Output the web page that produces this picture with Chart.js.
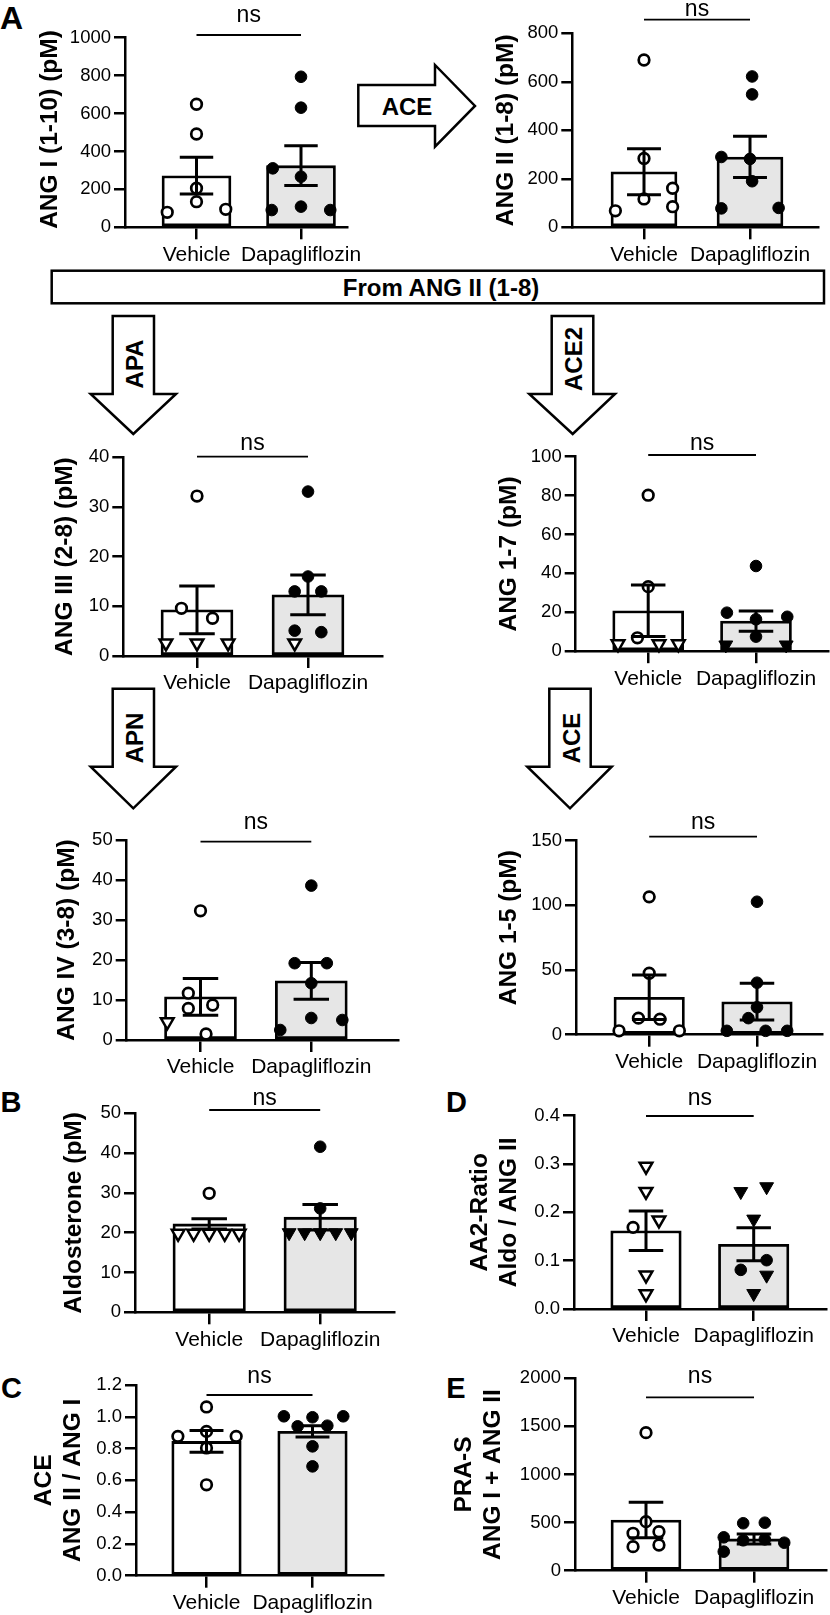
<!DOCTYPE html>
<html>
<head>
<meta charset="utf-8">
<script src="https://cdn.jsdelivr.net/npm/chart.js@4.4.1/dist/chart.umd.min.js"></script>
<style>
  html, body { margin: 0; padding: 0; background: #fff; width: 830px; height: 1615px; overflow: hidden; position: relative; }
  canvas { position: absolute; }
  svg { position: absolute; left: 0; top: 0; }
</style>
</head>
<body>
<svg width="830" height="1615" font-family="Liberation Sans, Arial, sans-serif" font-weight="bold">
  <g fill="#fff" stroke="#000" stroke-width="2.5">
    <polygon points="358.3,85 435,85 435,65 475,106 435,146.7 435,126 358.3,126"/>
    <rect x="51.7" y="270.7" width="772.3" height="32.6"/>
    <polygon points="112.7,316 154,316 154,394 176,394 133.3,434 90.7,394 112.7,394"/>
    <polygon points="551.7,316 593.3,316 593.3,394 615,394 572.7,434 529.3,394 551.7,394"/>
    <polygon points="112.7,688.7 154,688.7 154,766.7 176,766.7 133.3,808.3 90.7,766.7 112.7,766.7"/>
    <polygon points="549.3,688.7 590.7,688.7 590.7,766.7 611.7,766.7 570,808.3 527.3,766.7 549.3,766.7"/>
  </g>
  <g fill="#000" font-size="24" text-anchor="middle" dominant-baseline="central">
    <text x="407" y="106">ACE</text>
    <text x="441" y="287">From ANG II (1-8)</text>
    <text transform="translate(134,364) rotate(-90)">APA</text>
    <text transform="translate(573,359) rotate(-90)">ACE2</text>
    <text transform="translate(134.5,738) rotate(-90)">APN</text>
    <text transform="translate(571,738) rotate(-90)">ACE</text>
  </g>
  <g fill="#000" text-anchor="middle" dominant-baseline="central">
    <text x="11.5" y="17.5" font-size="32">A</text>
    <text x="11" y="1102" font-size="29">B</text>
    <text x="11.5" y="1388" font-size="29">C</text>
    <text x="456.5" y="1102" font-size="29">D</text>
    <text x="456" y="1388" font-size="29">E</text>
  </g>
</svg>
<script>
const FONT = '"Liberation Sans", Arial, Helvetica, sans-serif';
const groups = ['Vehicle', 'Dapagliflozin'];

// ANG I (1-10)
const angIMean = [272, 325];
const angISem = [97, 105];
const angIVeh = [649, 492, 206, 135, 79, 95];
const angIVehX = [0, 0, 0, 0, -0.28, 0.28];
const angIDap = [794, 631, 311, 267, 109, 91, 91];
const angIDapX = [0, 0, -0.27, 0, 0, -0.28, 0.28];

// ANG II (1-8)
const angIIMean = [229, 290];
const angIISem = [95, 85];
const angIIVeh = [690, 284, 117, 68, 161, 85];
const angIIVehX = [0, 0, 0, -0.27, 0.27, 0.27];
const angIIDap = [622, 548, 290, 282, 190, 78, 80];
const angIIDapX = [0.02, 0.02, -0.27, 0, 0.02, -0.27, 0.27];

// ANG III (2-8)
const angIIIMean = [9.3, 12.3];
const angIIISem = [4.8, 4.0];
const angIIIVeh = [32.2, 9.6, 7.6];
const angIIIVehX = [0, -0.14, 0.14];
const angIIIVehLow = [2.6, 2.6, 2.6];
const angIIIVehLowX = [-0.28, 0, 0.28];
const angIIIDap = [33.1, 16.0, 13.0, 13.0, 5.1, 4.8];
const angIIIDapX = [0, 0, -0.12, 0.12, -0.12, 0.12];
const angIIIDapLow = [2.6];
const angIIIDapLowX = [-0.12];

// ANG 1-7
const ang17Mean = [20.8, 15.5];
const ang17Sem = [13.2, 5.2];
const ang17Veh = [80.2, 33.2, 6.9];
const ang17VehX = [0, 0, -0.1];
const ang17VehLow = [3.7, 3.7, 3.7];
const ang17VehLowX = [-0.28, 0.1, 0.28];
const ang17Dap = [43.8, 19.8, 16.4, 17.7, 7.5];
const ang17DapX = [0, -0.27, 0, 0.29, 0];
const ang17DapLow = [3.2, 3.2];
const ang17DapLowX = [-0.28, 0.28];

// ANG IV (3-8)
const angIVMean = [10.8, 14.8];
const angIVSem = [4.6, 4.6];
const angIVVeh = [32.3, 11.7, 8.75, 7.9, 1.5];
const angIVVehX = [0, -0.11, 0.11, -0.11, 0.05];
const angIVVehLow = [4.5];
const angIVVehLowX = [-0.3];
const angIVDap = [38.6, 19.2, 19.2, 14.2, 5.5, 5.0, 2.5];
const angIVDapX = [0, -0.15, 0.14, 0, 0, 0.28, -0.28];

// ANG 1-5
const ang15Mean = [28.9, 25.5];
const ang15Sem = [17.2, 14.2];
const ang15Veh = [106.6, 47.5, 12.8, 12, 3, 3];
const ang15VehX = [0, 0, -0.1, 0.1, -0.28, 0.28];
const ang15Dap = [102.8, 40.2, 21.2, 12.8, 3, 3, 3];
const ang15DapX = [0, 0, 0, -0.08, -0.28, 0.08, 0.28];

// Aldosterone
const aldoMean = [22.2, 23.9];
const aldoSem = [1.3, 3.2];
const aldoVeh = [29.9];
const aldoVehX = [0];
const aldoVehLow = [19.8, 19.8, 19.8, 19.8, 19.8];
const aldoVehLowX = [-0.28, -0.14, 0, 0.14, 0.27];
const aldoDap = [41.6, 26.1];
const aldoDapX = [0, 0];
const aldoDapLow = [20, 20, 20, 20, 20];
const aldoDapLowX = [-0.28, -0.14, 0, 0.14, 0.28];

// AA2-Ratio
const aa2Mean = [0.162, 0.134];
const aa2Sem = [0.041, 0.034];
const aa2Veh = [0.169];
const aa2VehX = [-0.12];
const aa2VehLow = [0.295, 0.243, 0.184, 0.070, 0.031];
const aa2VehLowX = [0, 0, 0.12, 0, 0];
const aa2Dap = [0.101, 0.081];
const aa2DapX = [0.12, -0.12];
const aa2DapLow = [0.243, 0.253, 0.186, 0.070, 0.032];
const aa2DapLowX = [-0.12, 0.12, 0, 0.12, 0];

// ACE ratio
const aceMean = [0.845, 0.908];
const aceSem = [0.068, 0.036];
const aceVeh = [1.062, 0.908, 0.877, 0.877, 0.804, 0.572];
const aceVehX = [0, 0, -0.27, 0.28, 0, 0];
const aceDap = [1.003, 0.997, 1.003, 0.94, 0.944, 0.814, 0.688];
const aceDapX = [-0.27, 0, 0.29, -0.14, 0.14, 0, 0];

// PRA-S
const prasMean = [527, 330];
const prasSem = [185, 52];
const prasVeh = [1435, 510, 389, 405, 250, 267];
const prasVehX = [0, 0, -0.12, 0.12, -0.12, 0.12];
const prasDap = [493, 499, 347, 316, 326, 291, 198];
const prasDapX = [-0.1, 0.1, -0.28, -0.1, 0.1, 0.28, -0.28];

const OPEN_DOT = { pointStyle: 'circle', pointRadius: 5.3, pointBorderWidth: 2.7, pointBackgroundColor: '#fff', pointBorderColor: '#000' };
const FULL_DOT = { pointStyle: 'circle', pointRadius: 5.8, pointBorderWidth: 1, pointBackgroundColor: '#000', pointBorderColor: '#000' };
const OPEN_TRI = { pointStyle: 'triangle', pointRotation: 180, pointRadius: 7.3, pointBorderWidth: 2.5, pointBackgroundColor: '#fff', pointBorderColor: '#000' };
const FULL_TRI = { pointStyle: 'triangle', pointRotation: 180, pointRadius: 8, pointBorderWidth: 1, pointBackgroundColor: '#000', pointBorderColor: '#000' };

function pts(vals, xs, g) {
  return vals.map((v, i) => ({ x: g + xs[i], y: v }));
}

// y title, error bars (SEM) and the "ns" bracket
function extras(p, x0) {
  return {
    id: 'extras',
    afterDatasetsDraw(chart) {
      const { ctx, chartArea } = chart;
      const x = chart.scales.x, y = chart.scales.y;
      ctx.save();
      ctx.strokeStyle = '#000';
      ctx.lineWidth = 3;
      p.mean.forEach((m, i) => {
        const px = x.getPixelForValue(i);
        const hi = y.getPixelForValue(m + p.sem[i]);
        const lo = y.getPixelForValue(m - p.sem[i]);
        const cap = x.getPixelForValue(i + 0.16) - px;
        ctx.beginPath();
        ctx.moveTo(px, hi); ctx.lineTo(px, lo);
        ctx.moveTo(px - cap, hi); ctx.lineTo(px + cap, hi);
        ctx.moveTo(px - cap, lo); ctx.lineTo(px + cap, lo);
        ctx.stroke();
      });
      const ly = chartArea.top + p.ns.dy;
      const a = x.getPixelForValue(0), b = x.getPixelForValue(1);
      ctx.lineWidth = 1.8;
      ctx.beginPath(); ctx.moveTo(a, ly); ctx.lineTo(b, ly); ctx.stroke();
      ctx.fillStyle = '#000';
      ctx.font = '23px ' + FONT;
      ctx.textAlign = 'center';
      ctx.textBaseline = 'alphabetic';
      ctx.fillText('ns', (a + b) / 2, ly - p.ns.gap);

      const lines = Array.isArray(p.title) ? p.title : [p.title];
      ctx.translate(p.titleX - x0, (chartArea.top + chartArea.bottom) / 2 + (p.titleDy || 0));
      ctx.rotate(-Math.PI / 2);
      ctx.font = 'bold 24.5px ' + FONT;
      ctx.textBaseline = 'middle';
      lines.forEach((t, i) => ctx.fillText(t, 0, i * 29));
      ctx.restore();
    }
  };
}

function panel(p) {
  const XH = 45;
  const titleLeft = p.titleX - 15;
  const x0 = Math.floor(titleLeft - 6), y0 = Math.floor(p.topY - 70);
  const W = Math.ceil(p.endX - x0 + 75), H = Math.ceil(p.zeroY - y0 + 55);
  const pad = {
    left: titleLeft - x0, top: p.topY - y0,
    right: W - (p.endX - x0), bottom: H - (p.zeroY - y0) - XH
  };
  const yW = p.axisX - titleLeft;
  const span = p.dapX - p.vehX;

  const cv = document.createElement('canvas');
  cv.width = W; cv.height = H;
  cv.style.left = x0 + 'px'; cv.style.top = y0 + 'px';
  document.body.appendChild(cv);

  const datasets = p.series.map(([style, data]) => Object.assign({ type: 'scatter', data: data, order: 1, clip: false }, style));
  datasets.push({
    type: 'bar', order: 2,
    data: [{ x: 0, y: p.mean[0] }, { x: 1, y: p.mean[1] }],
    backgroundColor: ['#fff', '#e6e6e6'], borderColor: '#000', borderWidth: 2.8,
    borderSkipped: false, barThickness: p.barW
  });

  new Chart(cv, {
    type: 'bar',
    data: { datasets: datasets },
    options: {
      responsive: false, animation: false, devicePixelRatio: 1,
      layout: { padding: pad },
      plugins: { legend: { display: false }, tooltip: { enabled: false } },
      scales: {
        x: {
          type: 'linear', offset: false,
          min: -(p.vehX - p.axisX) / span, max: 1 + (p.endX - p.dapX) / span,
          afterBuildTicks: s => { s.ticks = [{ value: 0 }, { value: 1 }]; },
          afterFit: s => { s.height = XH; s.paddingLeft = 0; s.paddingRight = 0; },
          ticks: { callback: v => groups[v], font: { family: FONT, size: 21 }, color: '#000', padding: 3, maxRotation: 0, autoSkip: false },
          grid: { offset: false, drawOnChartArea: false, drawTicks: true, tickLength: 12, color: '#000', lineWidth: 2.5 },
          border: { color: '#000', width: 2.5 }
        },
        y: {
          min: 0, max: p.yMax,
          afterFit: s => { s.width = yW; s.paddingTop = 0; s.paddingBottom = 0; },
          ticks: { stepSize: p.step, callback: v => v.toFixed(p.dec || 0), font: { family: FONT, size: 18.5 }, color: '#000', padding: 3 },
          grid: { drawOnChartArea: false, drawTicks: true, tickLength: 11, color: '#000', lineWidth: 2.5 },
          border: { color: '#000', width: 2.5 }
        }
      }
    },
    plugins: [extras(p, x0)]
  });
}

panel({ title: 'ANG I (1-10) (pM)', yMax: 1000, step: 200,
  titleX: 50, axisX: 125, vehX: 196.5, dapX: 301, endX: 347, topY: 37.7, zeroY: 227.3, barW: 69, titleDy: -3,
  ns: { dy: -2.7, gap: 13 }, mean: angIMean, sem: angISem,
  series: [[OPEN_DOT, pts(angIVeh, angIVehX, 0)], [FULL_DOT, pts(angIDap, angIDapX, 1)]] });

panel({ title: 'ANG II (1-8) (pM)', yMax: 800, step: 200,
  titleX: 506, axisX: 572.3, vehX: 644, dapX: 750, endX: 818, topY: 33.3, zeroY: 227.3, barW: 66,
  ns: { dy: -13.7, gap: 4 }, mean: angIIMean, sem: angIISem,
  series: [[OPEN_DOT, pts(angIIVeh, angIIVehX, 0)], [FULL_DOT, pts(angIIDap, angIIDapX, 1)]] });

panel({ title: 'ANG III (2-8) (pM)', yMax: 40, step: 10,
  titleX: 65, axisX: 123.3, vehX: 197, dapX: 308, endX: 382.7, topY: 457.3, zeroY: 656, barW: 72,
  ns: { dy: -0.6, gap: 6.7 }, mean: angIIIMean, sem: angIIISem,
  series: [[OPEN_DOT, pts(angIIIVeh, angIIIVehX, 0)], [OPEN_TRI, pts(angIIIVehLow, angIIIVehLowX, 0)],
           [FULL_DOT, pts(angIIIDap, angIIIDapX, 1)], [OPEN_TRI, pts(angIIIDapLow, angIIIDapLowX, 1)]] });

panel({ title: 'ANG 1-7 (pM)', yMax: 100, step: 20,
  titleX: 509, axisX: 575.7, vehX: 648.2, dapX: 756, endX: 828, topY: 456.7, zeroY: 651.2, barW: 71,
  ns: { dy: -1.7, gap: 5 }, mean: ang17Mean, sem: ang17Sem,
  series: [[OPEN_DOT, pts(ang17Veh, ang17VehX, 0)], [OPEN_TRI, pts(ang17VehLow, ang17VehLowX, 0)],
           [FULL_DOT, pts(ang17Dap, ang17DapX, 1)], [FULL_TRI, pts(ang17DapLow, ang17DapLowX, 1)]] });

panel({ title: 'ANG IV (3-8) (pM)', yMax: 50, step: 10,
  titleX: 67, axisX: 126.7, vehX: 200.5, dapX: 311.3, endX: 398, topY: 840, zeroY: 1040, barW: 72,
  ns: { dy: 1.7, gap: 12.4 }, mean: angIVMean, sem: angIVSem,
  series: [[OPEN_DOT, pts(angIVVeh, angIVVehX, 0)], [OPEN_TRI, pts(angIVVehLow, angIVVehLowX, 0)],
           [FULL_DOT, pts(angIVDap, angIVDapX, 1)]] });

panel({ title: 'ANG 1-5 (pM)', yMax: 150, step: 50,
  titleX: 509, axisX: 576, vehX: 649.2, dapX: 757, endX: 822, topY: 840.7, zeroY: 1034.7, barW: 70.5, titleDy: -10,
  ns: { dy: -4, gap: 7.4 }, mean: ang15Mean, sem: ang15Sem,
  series: [[OPEN_DOT, pts(ang15Veh, ang15VehX, 0)], [FULL_DOT, pts(ang15Dap, ang15DapX, 1)]] });

panel({ title: 'Aldosterone (pM)', yMax: 50, step: 10,
  titleX: 74, axisX: 135, vehX: 209.2, dapX: 320.2, endX: 394.3, topY: 1113.3, zeroY: 1312.3, barW: 72.5,
  ns: { dy: -3.3, gap: 5 }, mean: aldoMean, sem: aldoSem,
  series: [[OPEN_DOT, pts(aldoVeh, aldoVehX, 0)], [OPEN_TRI, pts(aldoVehLow, aldoVehLowX, 0)],
           [FULL_DOT, pts(aldoDap, aldoDapX, 1)], [FULL_TRI, pts(aldoDapLow, aldoDapLowX, 1)]] });

panel({ title: ['AA2-Ratio', 'Aldo / ANG II'], yMax: 0.4, step: 0.1, dec: 1,
  titleX: 480, axisX: 574, vehX: 646, dapX: 753.7, endX: 826, topY: 1115.7, zeroY: 1309, barW: 70.5,
  ns: { dy: 0.3, gap: 11 }, mean: aa2Mean, sem: aa2Sem,
  series: [[OPEN_DOT, pts(aa2Veh, aa2VehX, 0)], [OPEN_TRI, pts(aa2VehLow, aa2VehLowX, 0)],
           [FULL_DOT, pts(aa2Dap, aa2DapX, 1)], [FULL_TRI, pts(aa2DapLow, aa2DapLowX, 1)]] });

panel({ title: ['ACE', 'ANG II / ANG I'], yMax: 1.2, step: 0.2, dec: 1,
  titleX: 44, axisX: 136, vehX: 206.5, dapX: 312.5, endX: 383.3, topY: 1385, zeroY: 1575.7, barW: 69.5,
  ns: { dy: 10, gap: 12.3 }, mean: aceMean, sem: aceSem,
  series: [[OPEN_DOT, pts(aceVeh, aceVehX, 0)], [FULL_DOT, pts(aceDap, aceDapX, 1)]] });

panel({ title: ['PRA-S', 'ANG I + ANG II'], yMax: 2000, step: 500,
  titleX: 464, axisX: 575, vehX: 646, dapX: 754, endX: 826, topY: 1378.3, zeroY: 1570.7, barW: 70,
  ns: { dy: 19, gap: 14 }, mean: prasMean, sem: prasSem,
  series: [[OPEN_DOT, pts(prasVeh, prasVehX, 0)], [FULL_DOT, pts(prasDap, prasDapX, 1)]] });
</script>
</body>
</html>
